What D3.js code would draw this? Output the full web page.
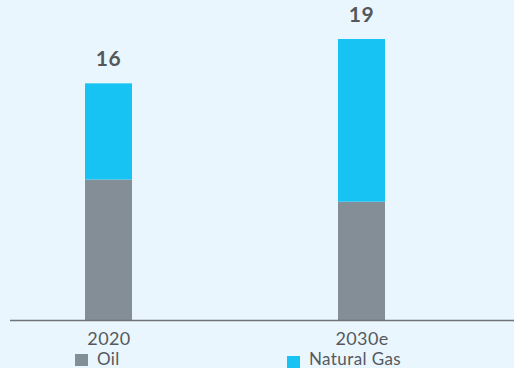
<!DOCTYPE html>
<html><head><meta charset="utf-8">
<script src="https://cdn.jsdelivr.net/npm/d3@7"></script>
<style>html,body{margin:0;padding:0;background:#EAF6FD;overflow:hidden}</style>
</head><body>
<svg id="c" width="514" height="368"></svg>
<script>
const categories = ["2020", "2030e"];
const oilValues = [9.5, 8.0];
const gasValues = [6.5, 11.0];
const totalLabels = ["16", "19"];
const seriesNames = ["Oil", "Natural Gas"];
const seriesColors = ["#838E96", "#16C3F3"];

const svg = d3.select("#c");
const W = 514, H = 368;
svg.append("rect").attr("width", W).attr("height", H).attr("fill", "#EAF6FD");

const data = categories.map((c, i) => ({cat: c, Oil: oilValues[i], "Natural Gas": gasValues[i]}));
const stack = d3.stack().keys(seriesNames)(data);

const xc = d3.scalePoint().domain(categories).range([108.5, 361.5]);
const bw = 47;
const y = d3.scaleLinear().domain([0, 19]).range([320, 39]);

const font = "Lato, 'Open Sans', sans-serif";

stack.forEach((s, si) => {
  svg.append("g").selectAll("rect").data(s).join("rect")
    .attr("x", d => xc(d.data.cat) - bw / 2)
    .attr("width", bw)
    .attr("y", d => y(d[1]))
    .attr("height", d => y(d[0]) - y(d[1]))
    .attr("fill", seriesColors[si]);
});

// totals
svg.append("g").selectAll("text").data(data).join("text")
  .attr("x", d => xc(d.cat))
  .attr("y", d => y(d.Oil + d["Natural Gas"]) - 17)
  .attr("text-anchor", "middle")
  .attr("font-family", font).attr("font-weight", "bold").attr("font-size", 21)
  .attr("letter-spacing", 0.5)
  .attr("fill", "#54585c")
  .text((d, i) => totalLabels[i]);

// axis
const axis = d3.axisBottom(xc).tickSize(0).tickPadding(8);
const g = svg.append("g").attr("transform", "translate(0,320)").call(axis);
g.select(".domain").remove();
g.selectAll("text").attr("font-family", font).attr("font-size", 18).attr("letter-spacing", 0.4)
  .attr("fill", "#55595d").attr("dy", "0.71em").attr("y", 12);
svg.append("line").attr("x1", 10).attr("x2", 514).attr("y1", 320.5).attr("y2", 320.5)
  .attr("stroke", "#6f7479").attr("stroke-width", 1.5);

// legend
const legX = [75, 287];
const legY = [354, 356];
const leg = svg.append("g");
seriesNames.forEach((n, i) => {
  leg.append("rect").attr("x", legX[i]).attr("y", legY[i]).attr("width", 13).attr("height", 12).attr("fill", seriesColors[i]);
  leg.append("text").attr("x", legX[i] + 22).attr("y", 365)
    .attr("font-family", font).attr("font-size", 17).attr("letter-spacing", 0.4)
    .attr("fill", "#55595d").text(n);
});
</script>
</body></html>
